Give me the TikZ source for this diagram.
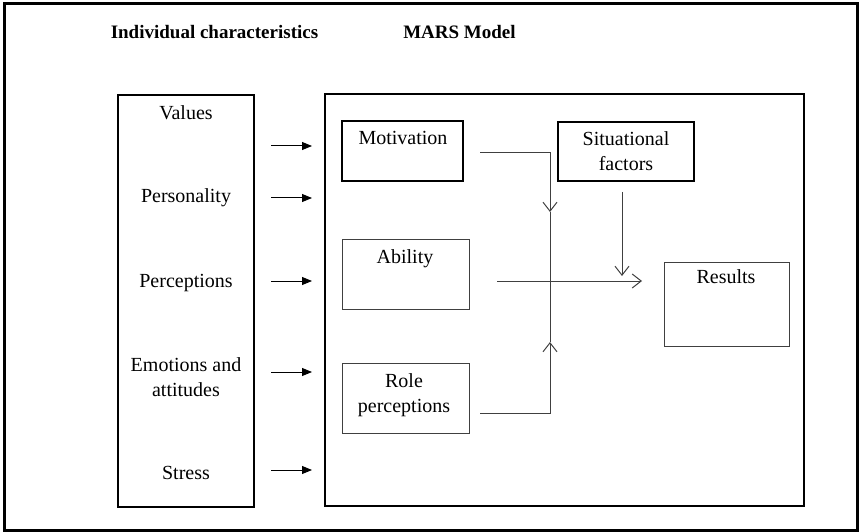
\documentclass[tikz,border=0pt]{standalone}
\usepackage{fontspec}
\setmainfont{Liberation Serif}
\usetikzlibrary{positioning,arrows.meta,calc}

\begin{document}
\begin{tikzpicture}[x=1pt,y=-1pt, font=\fontsize{20}{25}\selectfont,
  bigbox/.style={draw,line width=2pt,inner sep=0pt},
  thinbox/.style={draw=black!75,line width=1pt,inner sep=0pt},
  lbl/.style={anchor=base,align=center,inner sep=0pt},
  feed/.style={line width=1pt,-{Triangle[length=10pt,width=8pt]}},
  flow/.style={draw=black!75,line width=1pt,-{Straight Barb[length=9pt,width=14pt]}},
  wire/.style={draw=black!75,line width=1pt}]
  \useasboundingbox (0,0) rectangle (860,532);
  \draw[line width=3pt] (4,4) rectangle (857,530);
  % headings
  \node[lbl,font=\fontsize{19}{25}\selectfont\bfseries] (indiv) at (214.5,39) {Individual characteristics};
  \node[lbl,font=\fontsize{19}{25}\selectfont\bfseries] (mars) at (459.5,39) {MARS Model};
  % left column
  \node[bigbox,minimum width=136pt,minimum height=412pt] (chars) at (186,301) {};
  \node[lbl] (values) at (186,120) {Values};
  \node[lbl] (pers) at (186,203) {Personality};
  \node[lbl] (perc) at (186,287) {Perceptions};
  \node[lbl] (emo) at (186,396) {Emotions and\\attitudes};
  \node[lbl] (stress) at (186,479) {Stress};
  \foreach \y [count=\i] in {146,198,281,372,470} {
    \coordinate (a\i) at (271,\y);
    \coordinate (b\i) at (312,\y);
    \draw[feed] (a\i) -- (b\i);
  }
  % MARS model
  \node[bigbox,minimum width=479pt,minimum height=412pt] (model) at (564.5,300) {};
  \node[bigbox,minimum width=121pt,minimum height=60pt] (mot) at (402.5,151) {};
  \node[lbl] (motText) at (403,145) {Motivation};
  \node[thinbox,minimum width=127pt,minimum height=70pt] (abl) at (405.5,274) {};
  \node[lbl] (ablText) at (405,263) {Ability};
  \node[thinbox,minimum width=127pt,minimum height=70pt] (role) at (405.5,398) {};
  \node[lbl] (roleText) at (404,412) {Role\\perceptions};
  \node[bigbox,minimum width=136pt,minimum height=59pt] (sit) at (626,151.5) {};
  \node[lbl] (sitText) at (626,171) {Situational\\factors};
  \node[thinbox,minimum width=125pt,minimum height=84pt] (res) at (726.5,304) {};
  \node[lbl] (resText) at (726,283) {Results};
  % connectors
  \coordinate (motOut) at (480,153);
  \coordinate (motTip) at (550,212);
  \coordinate (roleOut) at (480,413);
  \coordinate (roleTip) at (550,342);
  \coordinate (ablOut) at (497,281);
  \coordinate (resIn) at (642,281);
  \coordinate (sitOut) at (622,192);
  \coordinate (sitIn) at (622,276);
  \draw[flow] (motOut) -| (motTip);
  \draw[wire] (motTip) -- (roleTip);
  \draw[flow] (roleOut) -| (roleTip);
  \draw[flow] (ablOut) -- (resIn);
  \draw[flow] (sitOut) -- (sitIn);
\end{tikzpicture}
\end{document}
